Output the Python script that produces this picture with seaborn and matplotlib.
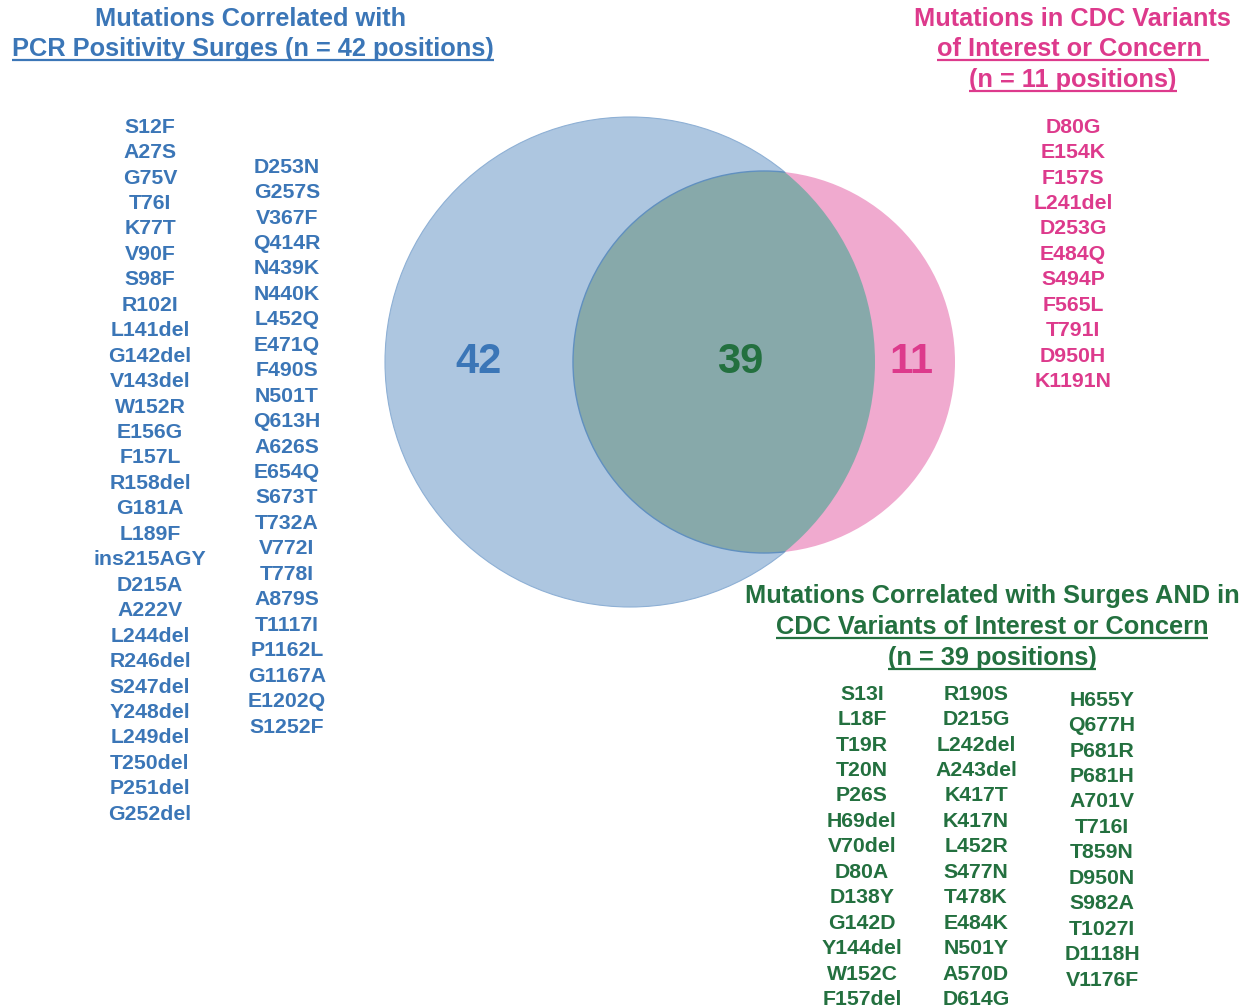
import seaborn as sns
import matplotlib.pyplot as plt
from matplotlib.patches import Circle

# Venn counts
n_surge_only = 42
n_both = 39
n_cdc_only = 11

# mutation lists
surge_col1 = ["S12F", "A27S", "G75V", "T76I", "K77T", "V90F", "S98F", "R102I",
              "L141del", "G142del", "V143del", "W152R", "E156G", "F157L", "R158del",
              "G181A", "L189F", "ins215AGY", "D215A", "A222V", "L244del", "R246del",
              "S247del", "Y248del", "L249del", "T250del", "P251del", "G252del"]
surge_col2 = ["D253N", "G257S", "V367F", "Q414R", "N439K", "N440K", "L452Q", "E471Q",
              "F490S", "N501T", "Q613H", "A626S", "E654Q", "S673T", "T732A", "V772I",
              "T778I", "A879S", "T1117I", "P1162L", "G1167A", "E1202Q", "S1252F"]
cdc_only = ["D80G", "E154K", "F157S", "L241del", "D253G", "E484Q", "S494P", "F565L",
            "T791I", "D950H", "K1191N"]
both_col1 = ["S13I", "L18F", "T19R", "T20N", "P26S", "H69del", "V70del", "D80A",
             "D138Y", "G142D", "Y144del", "W152C", "F157del"]
both_col2 = ["R190S", "D215G", "L242del", "A243del", "K417T", "K417N", "L452R", "S477N",
             "T478K", "E484K", "N501Y", "A570D", "D614G"]
both_col3 = ["H655Y", "Q677H", "P681R", "P681H", "A701V", "T716I", "T859N", "D950N",
             "S982A", "T1027I", "D1118H", "V1176F"]

blue = "#3b76b7"
pink = "#dd3a8c"
green = "#23703f"

sns.set_theme(style="white")
plt.rcParams['font.family'] = ['Liberation Sans', 'DejaVu Sans']

fig = plt.figure(figsize=(12.47, 10.08), dpi=100)
ax = fig.add_axes([0, 0, 1, 1])
ax.set_xlim(0, 1247)
ax.set_ylim(1008, 0)
ax.set_aspect('equal')
ax.axis('off')

# circles
big = Circle((630, 362), 245, facecolor="#adc6e0", edgecolor="#8eb0d5", lw=0.8, zorder=1)
small = Circle((764, 362), 191, facecolor="#f0aacf", edgecolor="none", zorder=2)
ax.add_patch(big)
ax.add_patch(small)
overlap = Circle((764, 362), 191, facecolor="#87a9aa", edgecolor="#6090c0", lw=1.0, zorder=3)
ax.add_patch(overlap)
overlap.set_clip_path(big)

ax.text(478, 358 + 15, str(n_surge_only), color=blue, fontsize=30, fontweight='bold',
        ha='center', va='baseline', zorder=5)
ax.text(740, 358 + 15, str(n_both), color=green, fontsize=30, fontweight='bold',
        ha='center', va='baseline', zorder=5)
ax.text(911, 358 + 15, str(n_cdc_only), color=pink, fontsize=30, fontweight='bold',
        ha='center', va='baseline', zorder=5)

list_fs = 15.3
title_fs = 18.3


def column(items, x, y0, color, step=25.45):
    off = 0.716 * list_fs * 100 / 72 / 2
    for i, s in enumerate(items):
        ax.text(x, y0 + i * step + off, s, color=color, fontsize=list_fs, fontweight='bold',
                ha='center', va='baseline')


column(surge_col1, 150, 125, blue)
column(surge_col2, 287, 165, blue)
column(cdc_only, 1073, 125, pink)
column(both_col1, 862, 692, green)
column(both_col2, 976, 692, green)
column(both_col3, 1102, 698, green)

underlined = []


def title(s, x, y, color, underline=False):
    off = 0.716 * title_fs * 100 / 72 / 2
    t = ax.text(x, y + off, s, color=color, fontsize=title_fs, fontweight='bold',
                ha='center', va='baseline')
    if underline:
        underlined.append((t, y + off, color))


title("Mutations Correlated with", 251, 17, blue)
title("PCR Positivity Surges (n = 42 positions)", 253, 47, blue, True)
title("Mutations in CDC Variants", 1072, 17, pink)
title("of Interest or Concern ", 1073, 47, pink, True)
title("(n = 11 positions)", 1073, 78, pink, True)
title("Mutations Correlated with Surges AND in", 992, 594, green)
title("CDC Variants of Interest or Concern", 992, 625, green, True)
title("(n = 39 positions)", 992, 656, green, True)

fig.canvas.draw()
r = fig.canvas.get_renderer()
inv = ax.transData.inverted()
for t, yb, c in underlined:
    bb = t.get_window_extent(r)
    x0 = inv.transform((bb.x0, 0))[0]
    x1 = inv.transform((bb.x1, 0))[0]
    ax.plot([x0, x1], [yb + 3.5, yb + 3.5], color=c, lw=1.6, solid_capstyle='butt')

fig.savefig("out.png", dpi=100)
